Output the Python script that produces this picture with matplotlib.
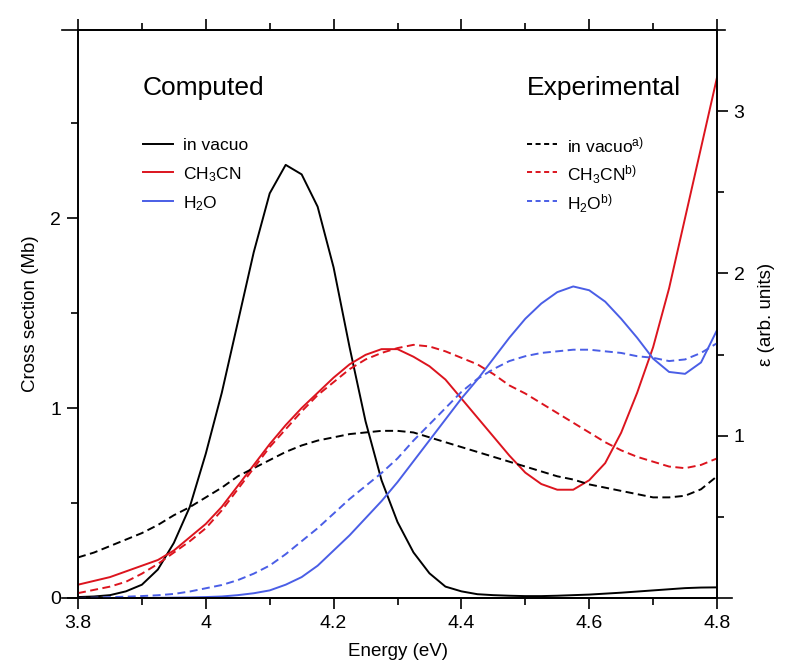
import numpy as np
import matplotlib
matplotlib.use("Agg")
import matplotlib.pyplot as plt
from matplotlib.ticker import MultipleLocator, FixedLocator

plt.rcParams['font.family'] = ['Liberation Sans', 'DejaVu Sans']
plt.rcParams['mathtext.fontset'] = 'custom'
plt.rcParams['mathtext.rm'] = 'Liberation Sans'
plt.rcParams['mathtext.it'] = 'Liberation Sans:italic'

# photon energy grid (eV)
energy = np.linspace(3.8, 4.8, 41)

# computed cross sections (Mb)
calc_vacuo = [0.005, 0.008, 0.015, 0.035, 0.07, 0.15, 0.29, 0.48, 0.76, 1.08,
              1.45, 1.82, 2.13, 2.28, 2.23, 2.06, 1.74, 1.32, 0.93, 0.62,
              0.40, 0.24, 0.13, 0.06, 0.035, 0.02, 0.015, 0.012, 0.01, 0.01,
              0.012, 0.015, 0.018, 0.023, 0.028, 0.034, 0.04, 0.046, 0.052, 0.055, 0.056]
calc_ch3cn = [0.07, 0.09, 0.11, 0.14, 0.17, 0.20, 0.25, 0.32, 0.39, 0.48,
              0.59, 0.70, 0.81, 0.91, 1.00, 1.08, 1.16, 1.23, 1.28, 1.31,
              1.31, 1.27, 1.22, 1.15, 1.05, 0.95, 0.85, 0.75, 0.66, 0.60,
              0.57, 0.57, 0.62, 0.71, 0.87, 1.08, 1.32, 1.63, 2.00, 2.37, 2.74]
calc_h2o = [0.0, 0.0, 0.0, 0.0, 0.0, 0.001, 0.002, 0.003, 0.005, 0.008,
            0.015, 0.025, 0.04, 0.07, 0.11, 0.17, 0.25, 0.33, 0.42, 0.51,
            0.61, 0.72, 0.83, 0.94, 1.05, 1.15, 1.26, 1.37, 1.47, 1.55,
            1.61, 1.64, 1.62, 1.56, 1.47, 1.37, 1.26, 1.19, 1.18, 1.24, 1.41]

# measured absorption (arb. units)
exp_vacuo = [0.25, 0.28, 0.32, 0.36, 0.40, 0.45, 0.51, 0.56, 0.62, 0.68,
             0.75, 0.80, 0.85, 0.90, 0.94, 0.97, 0.99, 1.01, 1.02, 1.03,
             1.03, 1.02, 0.99, 0.96, 0.93, 0.90, 0.87, 0.84, 0.81, 0.78,
             0.75, 0.73, 0.70, 0.68, 0.66, 0.64, 0.62, 0.62, 0.63, 0.67, 0.75]
exp_ch3cn = [0.03, 0.05, 0.07, 0.10, 0.15, 0.21, 0.28, 0.35, 0.43, 0.54,
             0.67, 0.80, 0.93, 1.04, 1.15, 1.25, 1.33, 1.41, 1.47, 1.51,
             1.54, 1.56, 1.55, 1.52, 1.48, 1.44, 1.38, 1.31, 1.26, 1.20,
             1.14, 1.08, 1.02, 0.96, 0.91, 0.87, 0.84, 0.81, 0.80, 0.82, 0.86]
exp_h2o = [0.0, 0.002, 0.005, 0.008, 0.012, 0.017, 0.025, 0.04, 0.06, 0.08,
           0.11, 0.15, 0.20, 0.27, 0.35, 0.43, 0.52, 0.61, 0.69, 0.77,
           0.86, 0.97, 1.07, 1.17, 1.27, 1.35, 1.41, 1.46, 1.49, 1.51,
           1.52, 1.53, 1.53, 1.52, 1.51, 1.49, 1.48, 1.46, 1.47, 1.51, 1.57]

labels_calc = ['in vacuo', r'CH$_3$CN', r'H$_2$O']
labels_exp = [r'in vacuo$^{\mathrm{a)}}$', r'CH$_3$CN$^{\mathrm{b)}}$', r'H$_2$O$^{\mathrm{b)}}$']
colors = ['black', '#dc141e', '#4a5ee6']

lw = 1.4
dash = (4.1, 2.3)

fig = plt.figure(figsize=(7.85, 6.72), dpi=100)
ax = fig.add_axes([78 / 785, 1 - 598 / 672, 639 / 785, 568 / 672])
ax2 = ax.twinx()

for y, c in zip([calc_vacuo, calc_ch3cn, calc_h2o], colors):
    ax.plot(energy, y, color=c, lw=lw)
for y, c in zip([exp_vacuo, exp_ch3cn, exp_h2o], colors):
    ax2.plot(energy, y, color=c, lw=lw, dashes=dash)

ax.set_xlim(3.8, 4.8)
ax.set_ylim(0, 2.99)
ax2.set_ylim(0, 3.5)

ax.set_xticks([3.8, 4.0, 4.2, 4.4, 4.6, 4.8])
ax.set_xticklabels(['3.8', '4', '4.2', '4.4', '4.6', '4.8'])
ax.xaxis.set_minor_locator(MultipleLocator(0.1))
ax.yaxis.set_major_locator(FixedLocator([0, 1, 2]))
ax.yaxis.set_minor_locator(FixedLocator([0.5, 1.5, 2.5]))
ax2.yaxis.set_major_locator(FixedLocator([1, 2, 3]))
ax2.yaxis.set_minor_locator(FixedLocator([0.5, 1.5, 2.5]))

for a in (ax, ax2):
    a.tick_params(which='both', direction='out', labelsize=14, width=1.2, pad=4)
    a.tick_params(which='major', length=8)
    a.tick_params(which='minor', length=5)
    for s in a.spines.values():
        s.set_linewidth(1.2)
ax.tick_params(which='both', top=True, labeltop=False)

# horizontal axis lines run a little past the frame
ax.plot([-0.025, 1.012], [1, 1], color='black', lw=1.2,
        transform=ax.transAxes, clip_on=False)
ax.plot([-0.025, 1.023], [0, 0], color='black', lw=1.2,
        transform=ax.transAxes, clip_on=False)

ax.set_xlabel('Energy (eV)', fontsize=13.5, labelpad=8)
ax.set_ylabel('Cross section (Mb)', fontsize=13.5, labelpad=8)
ax2.set_ylabel('ε (arb. units)', fontsize=13.5, labelpad=10)

# legend blocks, drawn in axes fraction
def to_ax(px, py):
    return (px - 78) / 639, 1 - (py - 30) / 568

rows_y = [144, 172, 201]
for x0, title, labels, style in [(143, 'Computed', labels_calc, '-'),
                                 (527, 'Experimental', labels_exp, '--')]:
    tx, ty = to_ax(x0, 88)
    ax.text(tx, ty, title, transform=ax.transAxes, fontsize=19,
            ha='left', va='center')
    for py, lab, c in zip(rows_y, labels, colors):
        xa, ya = to_ax(x0, py)
        xb, _ = to_ax(x0 + 30, py)
        kw = dict(dashes=(2.6, 1.8)) if style == '--' else {}
        ax.plot([xa, xb], [ya, ya], color=c, lw=lw, transform=ax.transAxes,
                clip_on=False, **kw)
        xt, _ = to_ax(x0 + 40, py)
        ax.text(xt, ya, lab, transform=ax.transAxes, fontsize=12.5,
                ha='left', va='center_baseline')

fig.savefig('out.png', dpi=100)
